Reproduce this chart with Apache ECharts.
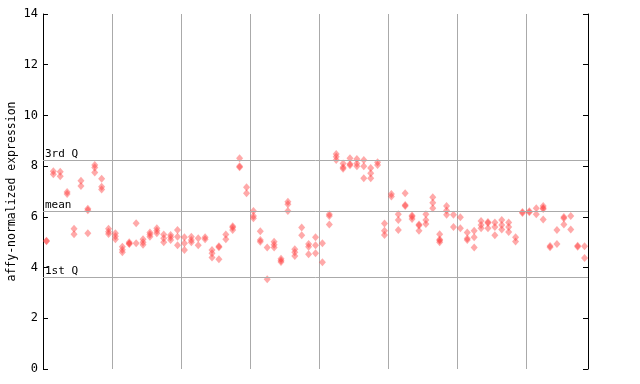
<!DOCTYPE html>
<html><head><meta charset="utf-8">
<script src="https://cdn.jsdelivr.net/npm/echarts@6/dist/echarts.min.js"></script>
<style>html,body{margin:0;padding:0;background:#fff}#c{width:640px;height:384px}</style>
</head><body><div id="c"></div>
<script>
// replicate values per sample, in 8 groups of 10 samples (last group 9)
const group1 = [[5.06,5.04],[7.80,7.68],[7.78,7.60],[6.98,6.90],[5.53,5.31],[7.42,7.22],[6.32,6.26,5.35],[8.05,7.95,7.75],[7.50,7.19,7.08],[5.53,5.41,5.32]];
const group2 = [[5.35,5.24,5.12],[4.82,4.70,4.60],[5.00,4.95,4.93],[5.75,4.96],[5.12,5.00,4.90],[5.38,5.30,5.22],[5.55,5.45,5.35],[5.30,5.16,5.00],[5.28,5.20,5.09],[5.48,5.22,4.88]];
const group3 = [[5.20,4.96,4.69],[5.22,5.09,5.00],[5.16,4.88],[5.20,5.12],[4.69,4.56,4.40],[4.84,4.80,4.33],[5.30,5.12],[5.63,5.58,5.48],[8.31,8.00,7.96],[7.17,6.93]];
const group4 = [[6.23,6.03,5.95],[5.43,5.09,5.02],[4.79,3.54],[5.02,4.90,4.79],[4.35,4.28,4.22],[6.60,6.50,6.23],[4.72,4.60,4.46],[5.58,5.27],[4.93,4.82,4.53],[5.20,4.88,4.56]];
const group5 = [[4.96,4.21],[6.10,6.03,5.70],[8.48,8.37,8.24],[8.10,7.96,7.90],[8.31,8.08,8.04],[8.28,8.10,8.00],[8.24,8.00,7.52],[7.93,7.72,7.52],[8.15,8.05],[5.74,5.45,5.28]];
const group6 = [[6.90,6.80],[6.10,5.88,5.48],[6.93,6.47,6.43],[6.05,6.00,5.92],[5.70,5.66,5.45],[6.10,5.88,5.72],[6.77,6.56,6.34],[5.31,5.11,5.07,5.00],[6.43,6.25,6.08],[6.08,5.60]];
const group7 = [[5.98,5.55],[5.38,5.15,5.09],[5.45,5.20,4.79],[5.84,5.68,5.55],[5.80,5.76,5.55],[5.78,5.60,5.27],[5.88,5.68,5.50],[5.78,5.60,5.40],[5.20,5.03],[6.19,6.15]];
const group8 = [[6.22,6.18],[6.34,6.10],[6.43,6.35,6.31,5.90],[4.85,4.80],[5.48,4.93],[5.99,5.95,5.70],[6.03,5.50],[4.86,4.82],[4.84,4.38]];
const refValues = [8.23, 6.22, 3.62];
const refLabels = ['3rd Q', 'mean', '1st Q'];
const yTicks = [0, 2, 4, 6, 8, 10, 12, 14];

const samples = [].concat(group1, group2, group3, group4, group5, group6, group7, group8);
const nSamples = samples.length;
const points = [];
samples.forEach((reps, i) => reps.forEach(v => points.push([i + 0.5, v])));

const mono = 'DejaVu Sans Mono';
const chart = echarts.init(document.getElementById('c'));
chart.setOption({
  animation: false,
  grid: { left: 43, right: 52, top: 14, bottom: 15, containLabel: false, outerBoundsMode: 'none' },
  xAxis: {
    type: 'value', min: 0, max: nSamples, interval: 10,
    axisLine: { show: false }, axisTick: { show: false }, axisLabel: { show: false },
    splitLine: { show: true, lineStyle: { color: '#aaaaaa', width: 1 } }
  },
  yAxis: [{
    type: 'value', min: yTicks[0], max: yTicks[yTicks.length - 1], interval: 2,
    name: 'affy-normalized expression', nameLocation: 'middle', nameRotate: 90, nameGap: 25,
    nameMoveOverlap: false,
    nameTextStyle: { fontFamily: mono, fontSize: 11.5, color: '#000' },
    axisLine: { show: true, lineStyle: { color: '#000', width: 1 } },
    axisTick: { show: true, inside: true, length: 5, lineStyle: { color: '#000' } },
    axisLabel: { fontFamily: mono, fontSize: 12, color: '#000', margin: 5 },
    splitLine: { show: false }
  }, {
    type: 'value', min: yTicks[0], max: yTicks[yTicks.length - 1], interval: 2, position: 'right',
    axisLine: { show: true, lineStyle: { color: '#000', width: 1 } },
    axisTick: { show: true, inside: true, length: 5, lineStyle: { color: '#000' } },
    axisLabel: { show: false }, splitLine: { show: false }
  }],
  series: [{
    type: 'scatter',
    data: points,
    symbol: 'diamond',
    symbolSize: [7, 8],
    itemStyle: { color: 'rgba(255,60,60,0.55)' },
    markLine: {
      silent: true, symbol: 'none',
      lineStyle: { color: '#aaaaaa', width: 1, type: 'solid' },
      label: { position: 'insideStartTop', distance: [2, 1], fontFamily: mono, fontSize: 11, color: '#000', formatter: p => p.name },
      data: refValues.map((v, i) => ({ yAxis: v, name: refLabels[i] }))
    }
  }]
});
</script></body></html>
